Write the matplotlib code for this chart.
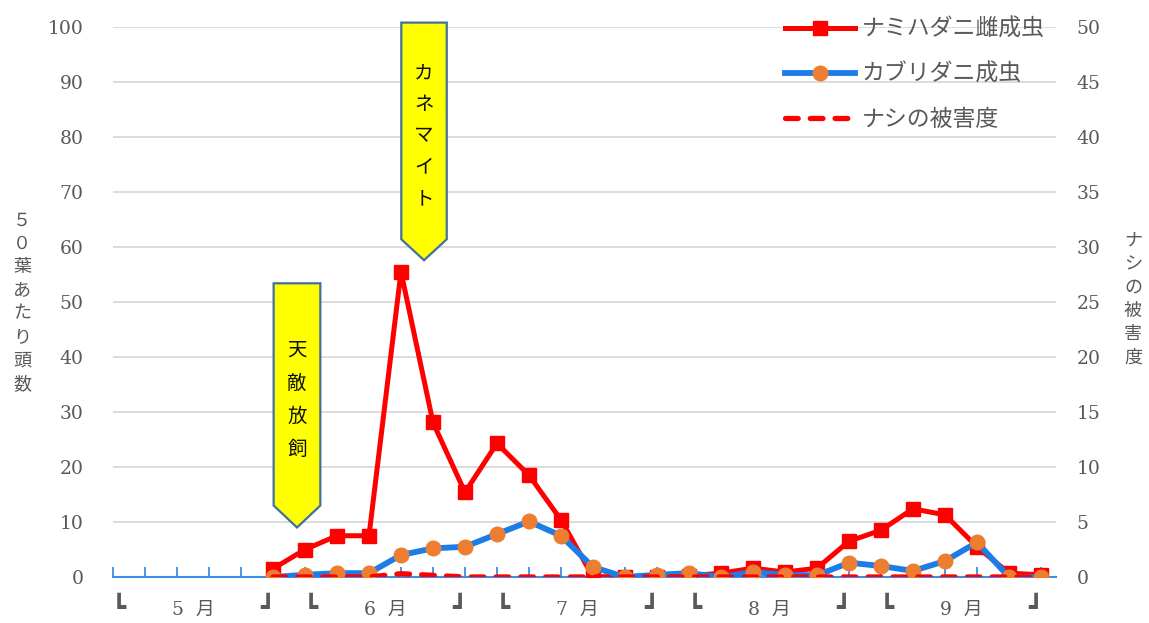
import numpy as np
import matplotlib.pyplot as plt
from matplotlib.patches import Polygon

# 半旬ごとの調査（5月～9月、各月6区分）
days = np.arange(5, 30)
months = ["5  月", "6  月", "7  月", "8  月", "9  月"]

# 50葉あたり頭数
spider_mite = [1.5, 5.0, 7.5, 7.5, 55.5, 28.1, 15.4, 24.3, 18.5, 10.4,
               0.0, 0.0, 0.0, 0.2, 0.7, 1.6, 0.9, 1.6, 6.5, 8.5,
               12.4, 11.3, 5.5, 0.7, 0.4]
predator = [0.0, 0.4, 0.7, 0.7, 4.0, 5.2, 5.5, 7.8, 10.1, 7.5,
            1.8, 0.0, 0.4, 0.7, 0.0, 0.9, 0.4, 0.3, 2.6, 2.0,
            1.1, 2.9, 6.3, 0.0, 0.0]
# ナシの被害度（右軸）
damage = [0.0, 0.0, 0.0, 0.0, 0.3, 0.15, 0.0, 0.0, 0.0, 0.0,
          0.0, 0.0, 0.0, 0.0, 0.0, 0.0, 0.0, 0.0, 0.0, 0.0,
          0.0, 0.0, 0.0, 0.0, 0.0]

series_names = ["ナミハダニ雌成虫", "カブリダニ成虫", "ナシの被害度"]

JP = ["Noto Sans CJK JP", "DejaVu Sans"]
NUM = ["DejaVu Serif", "Noto Sans CJK JP"]
GRAY = "#595959"
AXIS_BLUE = "#3D8EE6"

fig = plt.figure(figsize=(11.49, 6.23), dpi=100)
ax = fig.add_axes([113 / 1149, 46 / 623, 943 / 1149, 550 / 623])
ax.set_xlim(0, 29.47)
ax.set_ylim(0, 100)

ax.set_yticks(range(0, 101, 10))
ax.tick_params(axis="y", length=0, pad=21, labelsize=13.5, labelcolor=GRAY)
for t in ax.get_yticklabels():
    t.set_family(NUM)
ax.set_xticks(range(30))
ax.tick_params(axis="x", direction="in", length=7, width=1.3,
               color=AXIS_BLUE, labelbottom=False)
ax.grid(axis="y", color="#D9D9D9", lw=1.3)
ax.set_axisbelow(True)
for s in ["left", "right", "top"]:
    ax.spines[s].set_visible(False)
ax.spines["bottom"].set_color(AXIS_BLUE)
ax.spines["bottom"].set_linewidth(1.5)

l1, = ax.plot(days, spider_mite, color="#FF0000", lw=3.6, marker="s",
              ms=10, zorder=3)
l2, = ax.plot(days, predator, color="#1C7CE8", lw=4.2, marker="o", ms=10.5,
              markerfacecolor="#ED7D31", markeredgecolor="#ED7D31", zorder=4)

ax2 = ax.twinx()
ax2.set_ylim(0, 50)
ax2.set_yticks(range(0, 51, 5))
ax2.tick_params(axis="y", length=0, pad=15, labelsize=13.5, labelcolor=GRAY)
for t in ax2.get_yticklabels():
    t.set_family(NUM)
for s in ax2.spines.values():
    s.set_visible(False)
l3, = ax2.plot(days, damage, color="#FF0000", lw=3.8, ls=(0, (2.4, 2.3)),
               dash_capstyle="round", zorder=5)

ax2.legend([l1, l2, l3], series_names, loc="upper left",
           bbox_to_anchor=(785 / 1149, 1 - 18 / 623),
           bbox_transform=fig.transFigure, frameon=False,
           prop={"family": JP, "size": 16.5}, labelcolor=GRAY,
           handlelength=3.05, handletextpad=0.3, labelspacing=0.95,
           borderpad=0, borderaxespad=0)

# 月の区切りと月名
xt = ax.get_xaxis_transform()
for i, m in enumerate(months):
    start = i * 6
    ax.text(start - 0.05, -0.057, "┗", transform=xt, ha="left", va="center",
            fontsize=17, color=GRAY, family="DejaVu Sans Mono")
    ax.text(start + 5.05, -0.057, "┛", transform=xt, ha="right", va="center",
            fontsize=17, color=GRAY, family="DejaVu Sans Mono")
    ax.text(start + 2.5, -0.06, m, transform=xt, ha="center", va="center",
            fontsize=13.5, color=GRAY, family=NUM)


def callout(ax, xc, half_w, top, body, tip, label, y0, step):
    pts = [(xc - half_w, top), (xc + half_w, top), (xc + half_w, body),
           (xc, tip), (xc - half_w, body)]
    ax.add_patch(Polygon(pts, closed=True, facecolor="#FFFF00",
                         edgecolor="#41719C", lw=1.6, zorder=6,
                         clip_on=False))
    for k, ch in enumerate(label):
        ax.text(xc, y0 - k * step, ch, ha="center", va="center",
                fontsize=14, family=JP, color="#111111", zorder=7)


callout(ax2, 5.75, 0.73, 26.7, 6.5, 4.5, "天敵放飼", 20.6, 3.0)
callout(ax2, 9.72, 0.71, 50.4, 30.7, 28.8, "カネマイト", 45.8, 2.85)

# 軸タイトル（縦書き）
fig.text(22 / 1149, 1 - 302 / 623, "\n".join("５０葉あたり頭数"),
         ha="center", va="center", fontsize=13, color=GRAY, family=JP,
         linespacing=1.38)
fig.text(1133 / 1149, 1 - 299 / 623, "\n".join("ナシの被害度"),
         ha="center", va="center", fontsize=13, color=GRAY, family=JP,
         linespacing=1.38)

fig.savefig("out.png", dpi=100)
